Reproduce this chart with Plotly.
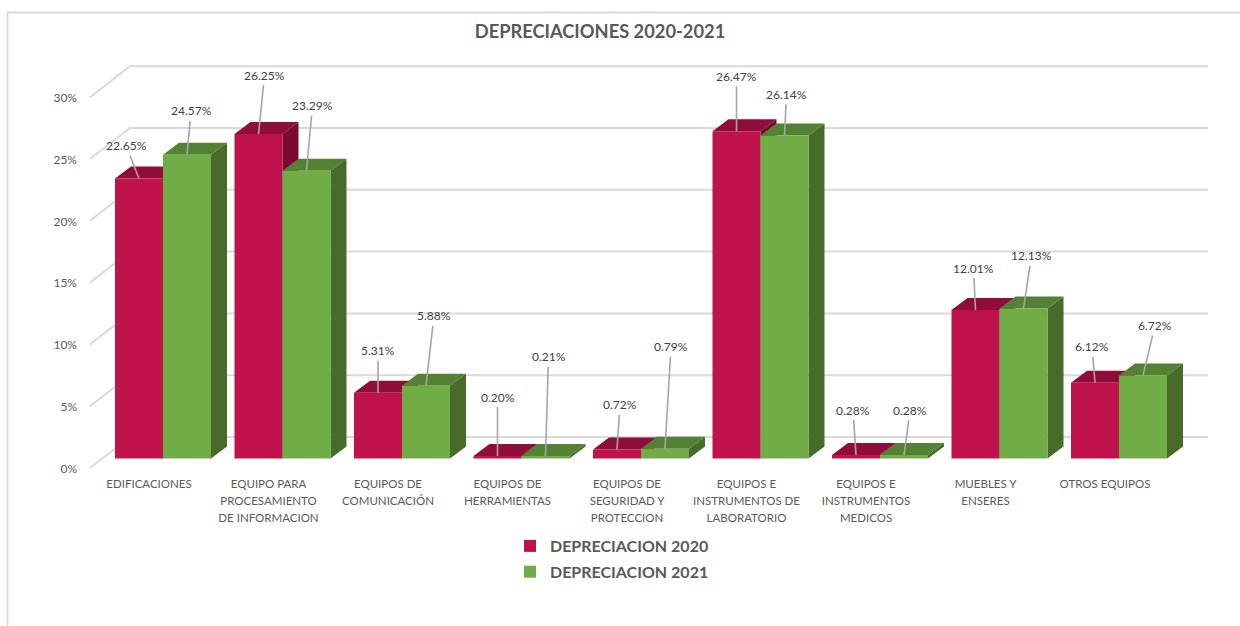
import plotly.graph_objects as go

categories = [
    'EDIFICACIONES',
    'EQUIPO PARA<br>PROCESAMIENTO<br>DE INFORMACION',
    'EQUIPOS DE<br>COMUNICACIÓN',
    'EQUIPOS DE<br>HERRAMIENTAS',
    'EQUIPOS DE<br>SEGURIDAD Y<br>PROTECCION',
    'EQUIPOS E<br>INSTRUMENTOS DE<br>LABORATORIO',
    'EQUIPOS E<br>INSTRUMENTOS<br>MEDICOS',
    'MUEBLES Y<br>ENSERES',
    'OTROS EQUIPOS',
]
dep_2020 = [22.65, 26.25, 5.31, 0.20, 0.72, 26.47, 0.28, 12.01, 6.12]
dep_2021 = [24.57, 23.29, 5.88, 0.21, 0.79, 26.14, 0.28, 12.13, 6.72]
y_ticks = [0, 5, 10, 15, 20, 25, 30]
y_tick_labels = ['0%', '5%', '10%', '15%', '20%', '25%', '30%']

# where each data label sits relative to its bar top (pixels)
offsets_2020 = [(-13, -33), (6, -59), (0, -42), (0, -59), (3, -45), (0, -55), (-3, -45), (-2, -42), (-3, -36)]
offsets_2021 = [(4, -44), (6, -65), (8, -70), (3, -99), (6, -102), (2, -41), (6, -45), (8, -53), (12, -50)]

# pixel geometry of the fake 3D look
PX_X = 119.5   # one category
PX_Y = 12.36   # one percent
ZERO_X = 163   # centre of first group on the page
ZERO_Y = 458.5 # 0% of the bar front plane on the page
LEFT, RIGHT, TOP, BOTTOM = 80, 1220, 50, 470
W, H = 1240, 626

bar_w = 48 / PX_X
depth_x = 16 / PX_X
depth_y = 12 / PX_Y


def face_trace(xs, ys, color, z):
    return go.Scatter(x=xs, y=ys, mode='lines', fill='toself', fillcolor=color,
                      line=dict(width=0, color=color), hoverinfo='skip',
                      showlegend=False, zorder=z)


def add_series(fig, name, values, offset, front, top, side, z):
    top_x, top_y, side_x, side_y = [], [], [], []
    for i, v in enumerate(values):
        x0 = i + offset
        x1 = x0 + bar_w
        top_x += [x0, x1, x1 + depth_x, x0 + depth_x, x0, None]
        top_y += [v, v, v + depth_y, v + depth_y, v, None]
        side_x += [x1, x1 + depth_x, x1 + depth_x, x1, x1, None]
        side_y += [0, depth_y, v + depth_y, v, 0, None]
    fig.add_trace(face_trace(top_x, top_y, top, z))
    fig.add_trace(face_trace(side_x, side_y, side, z))
    fig.add_trace(go.Bar(x=list(range(len(values))), y=values, name=name, width=bar_w,
                         offset=offset, marker=dict(color=front, line=dict(width=0)),
                         legendgroup=name, zorder=z + 1))


def add_labels(fig, values, shifts, centre):
    for i, (v, (ax, ay)) in enumerate(zip(values, shifts)):
        fig.add_annotation(x=i + centre, y=v, text=f'{v:.2f}%', ax=ax, ay=ay,
                           showarrow=True, arrowhead=0, arrowwidth=1.6, arrowcolor='#A6A6A6',
                           font=dict(size=12, color='#404040'), borderpad=2)


def tick_text(label):
    # outer tick font sets the line spacing, the span sets the glyph size
    lines = label.split('<br>')
    return '<br>'.join(f'<span style="font-size:11.5px">{line}</span>' for line in lines)


fig = go.Figure()

# floor to wall gridlines
grid_x, grid_y = [], []
for t in y_ticks:
    grid_x += [(90 - ZERO_X) / PX_X, (130 - ZERO_X) / PX_X, (1208 - ZERO_X) / PX_X, None]
    grid_y += [t - 9.5 / PX_Y, t + 21.5 / PX_Y, t + 21.5 / PX_Y, None]
fig.add_trace(go.Scatter(x=grid_x, y=grid_y, mode='lines', line=dict(color='#D9D9D9', width=2),
                         hoverinfo='skip', showlegend=False, zorder=0))

add_series(fig, 'DEPRECIACION 2020', dep_2020, -bar_w, '#C0134D', '#900C3A', '#7A0A30', 1)
add_series(fig, 'DEPRECIACION 2021', dep_2021, 0, '#70AD47', '#548235', '#476C2A', 3)
add_labels(fig, dep_2020, offsets_2020, -bar_w / 2)
add_labels(fig, dep_2021, offsets_2021, bar_w / 2)

fig.update_layout(
    width=W, height=H,
    margin=dict(l=LEFT, r=W - RIGHT, t=TOP, b=H - BOTTOM, autoexpand=False),
    paper_bgcolor='white', plot_bgcolor='white',
    font=dict(family='Lato', color='#595959', size=12),
    barmode='overlay',
    title=dict(text='<b>DEPRECIACIONES 2020-2021</b>', x=600 / W, xanchor='center',
               y=1 - 32 / H, yanchor='middle', font=dict(size=18.3, color='#595959')),
    legend=dict(orientation='v', x=(510 - LEFT) / (RIGHT - LEFT), xanchor='left',
                y=(BOTTOM - 529) / (BOTTOM - TOP), yanchor='top',
                font=dict(size=16, color='#595959', weight='bold'), tracegroupgap=2,
                bgcolor='rgba(0,0,0,0)', itemclick=False),
    xaxis=dict(range=[(LEFT - ZERO_X) / PX_X, (RIGHT - ZERO_X) / PX_X],
               tickmode='array', tickvals=list(range(len(categories))),
               ticktext=[tick_text(c) for c in categories],
               showgrid=False, zeroline=False, showline=False, ticks='',
               ticklabelshift=-14, ticklabelstandoff=4,
               tickfont=dict(size=13, color='#595959')),
    yaxis=dict(range=[(ZERO_Y - BOTTOM) / PX_Y, (ZERO_Y - TOP) / PX_Y],
               tickmode='array', tickvals=y_ticks, ticktext=y_tick_labels,
               showgrid=False, zeroline=False, showline=False, ticks='',
               ticklabelshift=10, ticklabelstandoff=2,
               tickfont=dict(size=12, color='#595959')),
    shapes=[dict(type='path', xref='paper', yref='paper', layer='below',
                 path=f'M {(1240 - LEFT) / (RIGHT - LEFT)} {(BOTTOM - 12.5) / (BOTTOM - TOP)} '
                      f'L {(7.5 - LEFT) / (RIGHT - LEFT)} {(BOTTOM - 12.5) / (BOTTOM - TOP)} '
                      f'L {(7.5 - LEFT) / (RIGHT - LEFT)} {(BOTTOM - 626) / (BOTTOM - TOP)}',
                 line=dict(color='#D9D9D9', width=1.8))],
)

fig.write_html('out.html', config={'displayModeBar': False},
               post_script="document.body.style.margin='0';")
